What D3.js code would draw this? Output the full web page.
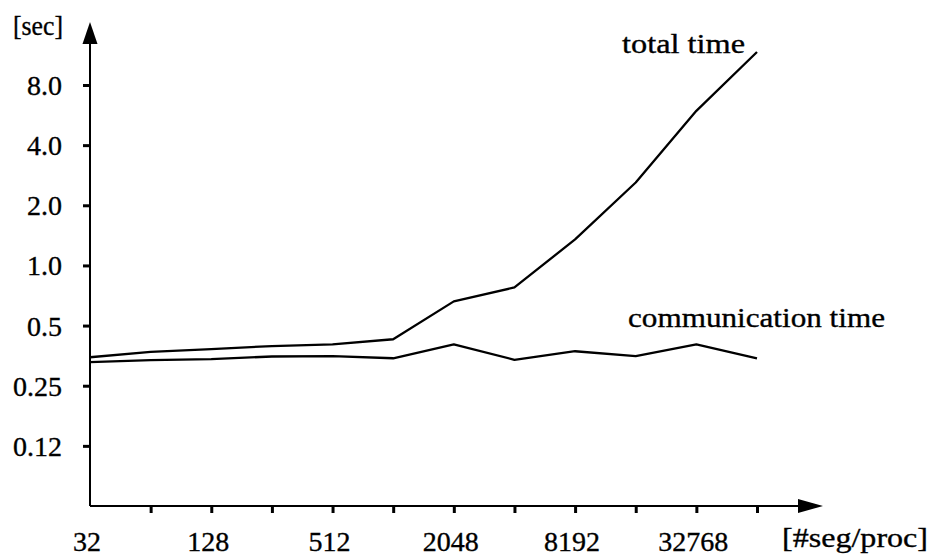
<!DOCTYPE html>
<html>
<head>
<meta charset="utf-8">
<script src="https://cdn.jsdelivr.net/npm/d3@7"></script>
<style>
  body { margin: 0; background: #fff; }
</style>
</head>
<body>
<svg id="chart" width="930" height="556"></svg>
<script>
// Problem size per processor (segments) and measured times in seconds
const segsPerProc = [32, 64, 128, 256, 512, 1024, 2048, 4096, 8192, 16384, 32768, 65536];
const totalTime   = [0.347, 0.369, 0.381, 0.395, 0.403, 0.427, 0.661, 0.776, 1.35, 2.6, 5.94, 11.7];
const commTime    = [0.328, 0.336, 0.340, 0.350, 0.352, 0.343, 0.403, 0.337, 0.372, 0.352, 0.403, 0.343];

const xTickValues = [64, 128, 256, 512, 1024, 2048, 4096, 8192, 16384, 32768, 65536];
const xLabelValues = [32, 128, 512, 2048, 8192, 32768];
const yTickValues = [0.125, 0.25, 0.5, 1, 2, 4, 8];
const yTickLabels = ["0.12", "0.25", "0.5", "1.0", "2.0", "4.0", "8.0"];

const FONT = "Liberation Serif";
const fontSize = 28;

const svg = d3.select("#chart");

// log2 scales on both axes
const x = d3.scaleLog().base(2).domain([32, 65536]).range([90, 757]);
const y = d3.scaleLog().base(2).domain([0.0625, 8]).range([506, 85]);

const x0 = x(32), y0 = y(0.0625);

function styleText(sel) {
  return sel.attr("font-family", FONT)
    .attr("font-size", fontSize)
    .attr("fill", "#000")
    .attr("stroke", "#000")
    .attr("stroke-width", 0.35);
}

// axis lines with arrow heads
svg.append("line").attr("x1", x0).attr("y1", y0).attr("x2", x0).attr("y2", 40)
  .attr("stroke", "#000").attr("stroke-width", 2);
svg.append("path").attr("d", `M${x0},22 L${x0 - 7.5},44 L${x0 + 7.5},44 Z`).attr("fill", "#000");

svg.append("line").attr("x1", x0).attr("y1", y0).attr("x2", 802).attr("y2", y0)
  .attr("stroke", "#000").attr("stroke-width", 2);
svg.append("path").attr("d", `M823,${y0} L798,${y0 - 7} L798,${y0 + 7} Z`).attr("fill", "#000");

// y ticks and labels
const yAxis = d3.axisLeft(y)
  .tickValues(yTickValues)
  .tickSize(7)
  .tickSizeOuter(0)
  .tickFormat((d, i) => yTickLabels[i]);
const gy = svg.append("g").attr("transform", `translate(${x0},0)`).call(yAxis)
  .attr("font-family", FONT).attr("font-size", fontSize);
gy.select(".domain").remove();
gy.selectAll(".tick line").attr("stroke", "#000").attr("stroke-width", 3);
styleText(gy.selectAll(".tick text"))
  .attr("x", 62 - x0)
  .attr("dy", null)
  .attr("y", 9.5)
  .attr("text-anchor", "end");

// x ticks (only every other one carries a label)
const xAxis = d3.axisBottom(x)
  .tickValues(xTickValues)
  .tickSize(7)
  .tickSizeOuter(0)
  .tickFormat(() => "");
const gx = svg.append("g").attr("transform", `translate(0,${y0})`).call(xAxis);
gx.select(".domain").remove();
gx.selectAll(".tick line").attr("stroke", "#000").attr("stroke-width", 3);
gx.selectAll(".tick text").remove();

styleText(svg.append("g").selectAll("text")
  .data(xLabelValues)
  .join("text"))
  .attr("x", d => x(d) - 3)
  .attr("y", 551)
  .attr("text-anchor", "middle")
  .text(d => d);

function label(tx, ty, str, len) {
  return styleText(svg.append("text")).attr("x", tx).attr("y", ty)
    .attr("textLength", len).attr("lengthAdjust", "spacingAndGlyphs").text(str);
}

// axis titles
label(13, 35, "[sec]", 50);
label(782, 547, "[#seg/proc]", 146);

// series lines
const line = d3.line().x((d, i) => x(segsPerProc[i])).y(d => y(d));
svg.append("path").datum(totalTime).attr("d", line)
  .attr("fill", "none").attr("stroke", "#000").attr("stroke-width", 2.3).attr("stroke-linejoin", "round");
svg.append("path").datum(commTime).attr("d", line)
  .attr("fill", "none").attr("stroke", "#000").attr("stroke-width", 2.3).attr("stroke-linejoin", "round");

// series names
label(622, 53, "total time", 123);
label(628, 327, "communication time", 257);
</script>
</body>
</html>
